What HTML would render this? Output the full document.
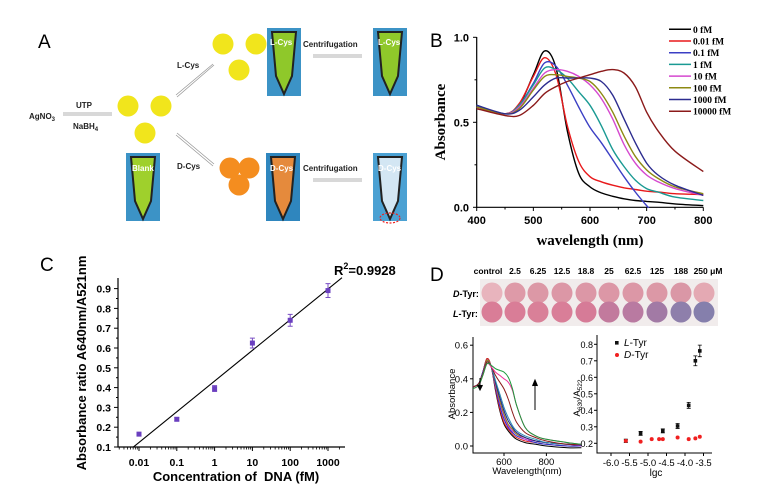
<!DOCTYPE html>
<html><head><meta charset="utf-8"><style>
html,body{margin:0;padding:0;background:#fff;}
svg{display:block;}
text{font-family:"Liberation Sans",sans-serif;}
.serif{font-family:"Liberation Serif",serif;font-weight:bold;}
.b{font-weight:bold;}
</style></head><body>
<svg id="fig" width="775" height="489" viewBox="0 0 775 489" xmlns="http://www.w3.org/2000/svg">
<rect width="775" height="489" fill="#fff"/>
<!-- Panel A -->
<g>
<text x="38" y="48" font-size="19">A</text>
<g fill="#f1e51c">
<circle cx="223" cy="44" r="10.5"/><circle cx="256" cy="44" r="10.5"/><circle cx="239" cy="70" r="10.5"/>
<circle cx="128" cy="106" r="10.5"/><circle cx="161" cy="106" r="10.5"/><circle cx="145" cy="133" r="10.5"/>
</g>
<g fill="#f48d1f">
<circle cx="230" cy="168" r="10.5"/><circle cx="249" cy="168" r="10.5"/><circle cx="239" cy="185" r="10.5"/>
</g>
<g>
<rect x="267" y="28" width="34" height="68" fill="#3c93c6"/><path d="M272 32 h24 l-4 44 l-8 18 l-8 -18z" fill="#8fc82a" stroke="#222" stroke-width="2"/>
<rect x="373" y="28" width="34" height="68" fill="#3c93c6"/><path d="M378 32 h24 l-4 44 l-8 18 l-8 -18z" fill="#8fc82a" stroke="#222" stroke-width="2"/>
<rect x="126" y="153" width="34" height="68" fill="#3c93c6"/><path d="M131 157 h24 l-4 44 l-8 18 l-8 -18z" fill="#9fd02c" stroke="#222" stroke-width="2"/>
<rect x="266" y="153" width="34" height="68" fill="#2f86be"/><path d="M271 157 h24 l-4 44 l-8 18 l-8 -18z" fill="#e58a3c" stroke="#222" stroke-width="2"/>
<rect x="373" y="153" width="34" height="68" fill="#4ba1d3"/><path d="M378 157 h24 l-4 44 l-8 18 l-8 -18z" fill="#d3e6f3" stroke="#222" stroke-width="2"/>
<ellipse cx="390" cy="218" rx="10" ry="5" fill="none" stroke="#e22" stroke-width="1.2" stroke-dasharray="2,1.5"/>
</g>
<g class="serif" font-size="8" fill="#fff">
<text x="270" y="45">L-Cys</text><text x="378" y="45">L-Cys</text><text x="132" y="171">Blank</text><text x="270" y="171">D-Cys</text><text x="378" y="171">D-Cys</text>
</g>
<g class="serif" font-size="8" fill="#222">
<text x="303" y="47">Centrifugation</text><text x="303" y="171">Centrifugation</text>
<text x="177" y="68">L-Cys</text><text x="177" y="169">D-Cys</text>
<text x="76" y="108">UTP</text><text x="29" y="119">AgNO<tspan font-size="6" dy="2">3</tspan></text><text x="73" y="129">NaBH<tspan font-size="6" dy="2">4</tspan></text>
</g>
<g stroke="#999" stroke-width="0.8" fill="none">
<path d="M63 113 L112 113 M63 115 L112 115"/>
<path d="M176 95 L213 64 M177 97 L214 65"/>
<path d="M176 135 L213 166 M177 133 L214 164"/>
<path d="M313 55 L362 55 M313 57 L362 57"/>
<path d="M313 179 L362 179 M313 181 L362 181"/>
</g>
</g>
<g id="pb">
<text x="430" y="47" font-size="19">B</text>
<text class="serif" font-size="15" transform="translate(445,122) rotate(-90)" text-anchor="middle">Absorbance</text>
<text class="serif" font-size="15" x="590" y="245" text-anchor="middle">wavelength (nm)</text>
</g>
<g id="pc">
<text x="40" y="271" font-size="19">C</text>
<text class="b" font-size="13" transform="translate(86,363) rotate(-90)" text-anchor="middle">Absorbance ratio A640nm/A521nm</text>
<text class="b" font-size="13" x="236" y="481" text-anchor="middle" xml:space="preserve">Concentration of  DNA (fM)</text>
<text class="b" font-size="13" x="334" y="275">R<tspan font-size="9" dy="-6">2</tspan><tspan dy="6">=0.9928</tspan></text>
</g>
<g id="pd">
<text x="430" y="281" font-size="19">D</text>
<rect x="480" y="279" width="238" height="47" fill="#f1ecec"/>
<text x="453" y="297" font-size="9" font-weight="bold"><tspan font-style="italic">D</tspan>-Tyr:</text>
<text x="453" y="317" font-size="9" font-weight="bold"><tspan font-style="italic">L</tspan>-Tyr:</text>
<text font-size="9.5" transform="translate(455,394) rotate(-90)" text-anchor="middle">Absorbance</text>
<text font-size="9.5" x="527" y="474" text-anchor="middle">Wavelength(nm)</text>
<text font-size="9.5" transform="translate(580,398) rotate(-90)" text-anchor="middle">A<tspan font-size="6.5" dy="2">630</tspan><tspan dy="-2">/A</tspan><tspan font-size="6.5" dy="2">522</tspan></text>
<text font-size="10" x="656" y="476" text-anchor="middle">lgc</text>
</g>
</svg>
<script>
// ---- Panel B data ----
const bWavelengths=[400,450,475,500,520,540,560,580,600,620,640,660,680,700,720,750,800];
const bLabels=["0  fM","0.01 fM","0.1 fM","1 fM","10 fM","100 fM","1000 fM","10000 fM"];
const b0=[0.59,0.55,0.60,0.78,0.92,0.82,0.45,0.20,0.12,0.085,0.065,0.05,0.04,0.035,0.03,0.02,0.01];
const b001=[0.59,0.55,0.61,0.77,0.88,0.78,0.48,0.27,0.18,0.15,0.13,0.115,0.105,0.095,0.09,0.08,0.075];
const b01=[0.60,0.55,0.60,0.73,0.85,0.83,0.72,0.59,0.47,0.38,0.28,0.18,0.09,0.01,-0.06,-0.15,-0.3];
const b1=[0.60,0.55,0.60,0.72,0.82,0.81,0.76,0.68,0.60,0.48,0.34,0.24,0.16,0.11,0.09,0.06,0.04];
const b10=[0.59,0.55,0.59,0.70,0.79,0.81,0.80,0.77,0.72,0.64,0.52,0.37,0.26,0.19,0.15,0.11,0.07];
const b100=[0.59,0.55,0.58,0.69,0.77,0.78,0.77,0.76,0.74,0.67,0.56,0.42,0.30,0.22,0.17,0.12,0.08];
const b1000=[0.60,0.55,0.57,0.65,0.72,0.76,0.76,0.76,0.76,0.74,0.66,0.52,0.38,0.26,0.19,0.13,0.07];
const b10000=[0.58,0.54,0.54,0.60,0.67,0.71,0.74,0.76,0.78,0.80,0.81,0.79,0.71,0.56,0.45,0.33,0.21];
const bXTicks=[400,500,600,700,800];
const bYTicks=[0.0,0.5,1.0];
// ---- Panel C data ----
const cConc=[0.01,0.1,1,10,100,1000];
const cRatio=[0.165,0.24,0.395,0.625,0.74,0.89];
const cErr=[0.005,0.008,0.015,0.025,0.03,0.035];
const cFitIntercept=0.433;
const cFitSlope=0.155;
const cXTicks=[0.01,0.1,1,10,100,1000];
const cYTicks=[0.1,0.2,0.3,0.4,0.5,0.6,0.7,0.8,0.9];
// ---- Panel D data ----
const dWellLabels=["control","2.5","6.25","12.5","18.8","25","62.5","125","188","250 μM"];
const dDRowColors=["#e8b4bd","#de9aa8","#dc98a6","#dc97a6","#dc97a6","#dc97a6","#dc97a6","#dc98a6","#da97a6","#e4a9b3"];
const dLRowColors=["#d97d97","#d97d97","#d98098","#d97e98","#d67b97","#c27a9d","#b97aa1","#a27aa5","#8e7fab","#857fac"];
const dWavelengths=[450,480,500,520,540,560,580,600,620,640,660,700,750,800,900,965];
const dS1=[0.35,0.37,0.44,0.52,0.47,0.33,0.21,0.13,0.09,0.06,0.04,0.02,0.01,0.0,-0.01,-0.01];
const dS2=[0.35,0.37,0.44,0.52,0.47,0.34,0.22,0.14,0.10,0.07,0.05,0.03,0.02,0.01,0.0,0.0];
const dS3=[0.35,0.37,0.44,0.51,0.47,0.35,0.24,0.16,0.11,0.08,0.06,0.04,0.02,0.01,0.0,0.0];
const dS4=[0.35,0.37,0.43,0.51,0.47,0.36,0.26,0.18,0.12,0.09,0.07,0.04,0.03,0.02,0.01,0.0];
const dS5=[0.35,0.37,0.43,0.51,0.47,0.37,0.27,0.19,0.13,0.10,0.07,0.05,0.03,0.02,0.01,0.005];
const dS6=[0.35,0.37,0.43,0.50,0.47,0.38,0.29,0.21,0.15,0.11,0.08,0.05,0.03,0.02,0.01,0.005];
const dS7=[0.35,0.37,0.43,0.50,0.47,0.39,0.31,0.23,0.17,0.12,0.09,0.06,0.04,0.02,0.01,0.01];
const dS8=[0.35,0.37,0.43,0.50,0.47,0.42,0.38,0.34,0.28,0.20,0.14,0.08,0.05,0.03,0.01,0.01];
const dS9=[0.34,0.36,0.42,0.49,0.47,0.44,0.42,0.40,0.38,0.33,0.24,0.11,0.06,0.04,0.02,0.01];
const dS10=[0.34,0.36,0.42,0.49,0.48,0.46,0.45,0.44,0.41,0.34,0.24,0.11,0.06,0.04,0.02,0.01];
const dLeftXTicks=[600,800];
const dLeftYTicks=[0.0,0.2,0.4,0.6];
const dLgcL=[-5.6,-5.2,-4.6,-4.2,-3.9,-3.72,-3.6];
const dRatioL=[0.215,0.26,0.275,0.305,0.43,0.70,0.76];
const dErrL=[0.01,0.012,0.012,0.015,0.018,0.03,0.035];
const dLgcD=[-5.6,-5.2,-4.9,-4.7,-4.6,-4.2,-3.9,-3.72,-3.6];
const dRatioD=[0.215,0.21,0.225,0.225,0.225,0.235,0.225,0.23,0.24];
const dRightXTicks=[-6.0,-5.5,-5.0,-4.5,-4.0,-3.5];
const dRightYTicks=[0.2,0.3,0.4,0.5,0.6,0.7,0.8];

const NS="http://www.w3.org/2000/svg";
const svg=document.getElementById('fig');
function mk(tag,attrs,parent){const e=document.createElementNS(NS,tag);for(const k in attrs)e.setAttribute(k,attrs[k]);(parent||svg).appendChild(e);return e;}
function smooth(pts){let d="M"+pts[0][0].toFixed(1)+" "+pts[0][1].toFixed(1);for(let i=0;i<pts.length-1;i++){const p0=pts[Math.max(i-1,0)],p1=pts[i],p2=pts[i+1],p3=pts[Math.min(i+2,pts.length-1)];const c1=[p1[0]+(p2[0]-p0[0])/6,p1[1]+(p2[1]-p0[1])/6],c2=[p2[0]-(p3[0]-p1[0])/6,p2[1]-(p3[1]-p1[1])/6];d+=" C"+c1[0].toFixed(1)+" "+c1[1].toFixed(1)+" "+c2[0].toFixed(1)+" "+c2[1].toFixed(1)+" "+p2[0].toFixed(1)+" "+p2[1].toFixed(1);}return d;}
function txt(x,y,s,attrs,parent){const t=mk('text',Object.assign({x:x,y:y},attrs||{}),parent);t.textContent=s;return t;}

// ---- Panel B ----
(function(){
const g=document.getElementById('pb');
const x=v=>476.7+(v-400)*(226.6/400), y=v=>207.3-v*170;
const clip=mk('clipPath',{id:'bclip'},svg);mk('rect',{x:476,y:30,width:228,height:178},clip);
const ax=mk('path',{d:`M476.7 37 V207.3 H703.3`,stroke:'#000','stroke-width':1.2,fill:'none'},g);


bXTicks.forEach(v=>{mk('line',{x1:x(v),x2:x(v),y1:207.3,y2:211,stroke:'#000'},g);const t=txt(x(v),224,v,{'font-size':11,'font-weight':'bold','text-anchor':'middle'},g);});
[450,550,650,750].forEach(v=>mk('line',{x1:x(v),x2:x(v),y1:207.3,y2:209.5,stroke:'#000'},g));
bYTicks.forEach(v=>{mk('line',{x1:473,x2:476.7,y1:y(v),y2:y(v),stroke:'#000'},g);const t=txt(469,y(v)+4,v.toFixed(1),{'font-size':11,'font-weight':'bold','text-anchor':'end'},g);});
[0.25,0.75].forEach(v=>mk('line',{x1:474.5,x2:476.7,y1:y(v),y2:y(v),stroke:'#000'},g));
const series=[b0,b001,b01,b1,b10,b100,b1000,b10000];
const cols=["#000","#e8191b","#3b3fc4","#1a9a93","#d548cf","#8d8a13","#2c2c8f","#8b1a1a"];
series.forEach((s,i)=>{const p=mk('path',{d:smooth(bWavelengths.map((w,j)=>[x(w),y(s[j])])),stroke:cols[i],'stroke-width':1.4,fill:'none','clip-path':'url(#bclip)'},g);


const ly=29.3+i*11.7;mk('line',{x1:669,x2:691,y1:ly,y2:ly,stroke:cols[i],'stroke-width':1.5},g);
const t=txt(693,ly+3.5,bLabels[i],{'font-size':9.5,class:'serif'},g);

});
})();

// ---- Panel C ----
(function(){
const g=document.getElementById('pc');
const x=v=>139+(Math.log10(v)+2)*37.8, y=v=>447-(v-0.1)*198;
const ax=mk('path',{d:'M118 278 V447 H345',stroke:'#000','stroke-width':1.2,fill:'none'},g);


cYTicks.forEach(v=>{mk('line',{x1:114,x2:118,y1:y(v),y2:y(v),stroke:'#000'},g);const t=txt(111,y(v)+4,v.toFixed(1),{'font-size':10.5,'font-weight':'bold','text-anchor':'end'},g);
if(v<0.9)mk('line',{x1:116,x2:118,y1:y(v+0.05),y2:y(v+0.05),stroke:'#000'},g);});
cXTicks.forEach(v=>{mk('line',{x1:x(v),x2:x(v),y1:447,y2:451,stroke:'#000'},g);const t=txt(x(v),466,v,{'font-size':10.5,'font-weight':'bold','text-anchor':'middle'},g);});
for(let e=-3;e<=3;e++)for(let m=2;m<10;m++){const v=m*Math.pow(10,e);const px=x(v);if(px>119&&px<345)mk('line',{x1:px,x2:px,y1:447,y2:449.5,stroke:'#000','stroke-width':0.8},g);}
const fx=l=>cFitIntercept+cFitSlope*l;
const l0=-2.15,l1=3.37;
const fl=mk('line',{x1:x(Math.pow(10,l0)),y1:y(fx(l0)),x2:x(Math.pow(10,l1)),y2:y(fx(l1)),stroke:'#000','stroke-width':1.1},g);


cConc.forEach((c,i)=>{const px=x(c),py=y(cRatio[i]),e=cErr[i]*198;
mk('path',{d:`M${px-2.5} ${py-e} h5 M${px} ${py-e} V${py+e} M${px-2.5} ${py+e} h5`,stroke:'#7a4fc4','stroke-width':1},g);
const r=mk('rect',{x:px-2.5,y:py-2.5,width:5,height:5,fill:'#6a3fbf'},g);

});
})();

// ---- Panel D ----
(function(){
const g=document.getElementById('pd');
const wx=[492,515,538,562,586,609,633,657,681,704];
dWellLabels.forEach((l,i)=>{const t=txt(wx[i]+(i==0?-4:0)+(i==9?4:0),274,l,{'font-size':8.5,'font-weight':'bold','text-anchor':'middle'},g);
const a=mk('circle',{cx:wx[i],cy:293,r:10.5,fill:dDRowColors[i]},g);
const b=mk('circle',{cx:wx[i],cy:312,r:10.5,fill:dLRowColors[i]},g);});
// left spectra
const x=v=>504+(v-600)*0.212, y=v=>446-v*168;
const clip=mk('clipPath',{id:'dclip'},svg);mk('rect',{x:473,y:335,width:109,height:118},clip);
const ax=mk('path',{d:'M473 337 V453 H582',stroke:'#000','stroke-width':1,fill:'none'},g);


dLeftXTicks.forEach(v=>{mk('line',{x1:x(v),x2:x(v),y1:453,y2:456,stroke:'#000'},g);const t=txt(x(v),465,v,{'font-size':9.5,'text-anchor':'middle'},g);});
dLeftYTicks.forEach(v=>{mk('line',{x1:470,x2:473,y1:y(v),y2:y(v),stroke:'#000'},g);const t=txt(468,y(v)+3.5,v.toFixed(1),{'font-size':9.5,'text-anchor':'end'},g);});
const ss=[dS1,dS2,dS3,dS4,dS5,dS6,dS7,dS8,dS9,dS10];
const cc=["#000","#e02020","#2030d0","#d030d0","#8a8a10","#1a1a8a","#2a8ab0","#8b1a1a","#ee3399","#1a9a3a"];
ss.forEach((s,i)=>{const p=mk('path',{d:smooth(dWavelengths.map((w,j)=>[x(w),y(s[j])])),stroke:cc[i],'stroke-width':1,fill:'none','clip-path':'url(#dclip)'},g);

});
const ar1=mk('path',{d:'M480 378 V389 M477.5 385 L480 390 L482.5 385',stroke:'#000','stroke-width':1,fill:'#000'},g);

const ar2=mk('path',{d:'M535 410 V381 M532.5 386 L535 380 L537.5 386',stroke:'#000','stroke-width':1,fill:'#000'},g);

// right scatter
const X=v=>611+(v+6)*37, Y=v=>443.3-(v-0.2)*165;
const ax2=mk('path',{d:'M597 335 V453 H712',stroke:'#000','stroke-width':1,fill:'none'},g);


dRightXTicks.forEach(v=>{mk('line',{x1:X(v),x2:X(v),y1:453,y2:456,stroke:'#000'},g);const t=txt(X(v),466,v.toFixed(1),{'font-size':9.5,'text-anchor':'middle'},g);});
dRightYTicks.forEach(v=>{mk('line',{x1:594,x2:597,y1:Y(v),y2:Y(v),stroke:'#000'},g);const t=txt(593,Y(v)+3.5,v.toFixed(1),{'font-size':9,'text-anchor':'end'},g);});
dLgcL.forEach((l,i)=>{const px=X(l),py=Y(dRatioL[i]),e=dErrL[i]*165;
mk('path',{d:`M${px-2} ${py-e} h4 M${px} ${py-e} V${py+e} M${px-2} ${py+e} h4`,stroke:'#000','stroke-width':0.8},g);
const r=mk('rect',{x:px-1.8,y:py-1.8,width:3.6,height:3.6,fill:'#111'},g);

});
dLgcD.forEach((l,i)=>{const c=mk('circle',{cx:X(l),cy:Y(dRatioD[i]),r:2,fill:'#f02020'},g);

});
mk('rect',{x:615,y:341,width:3.6,height:3.6,fill:'#111'},g);
const t1=txt(624,346,'',{'font-size':10},g);t1.innerHTML='<tspan font-style="italic">L</tspan>-Tyr';

mk('circle',{cx:617,cy:355,r:2,fill:'#f02020'},g);
const t2=txt(624,358,'',{'font-size':10},g);t2.innerHTML='<tspan font-style="italic">D</tspan>-Tyr';

})();
</script>
</body></html>
